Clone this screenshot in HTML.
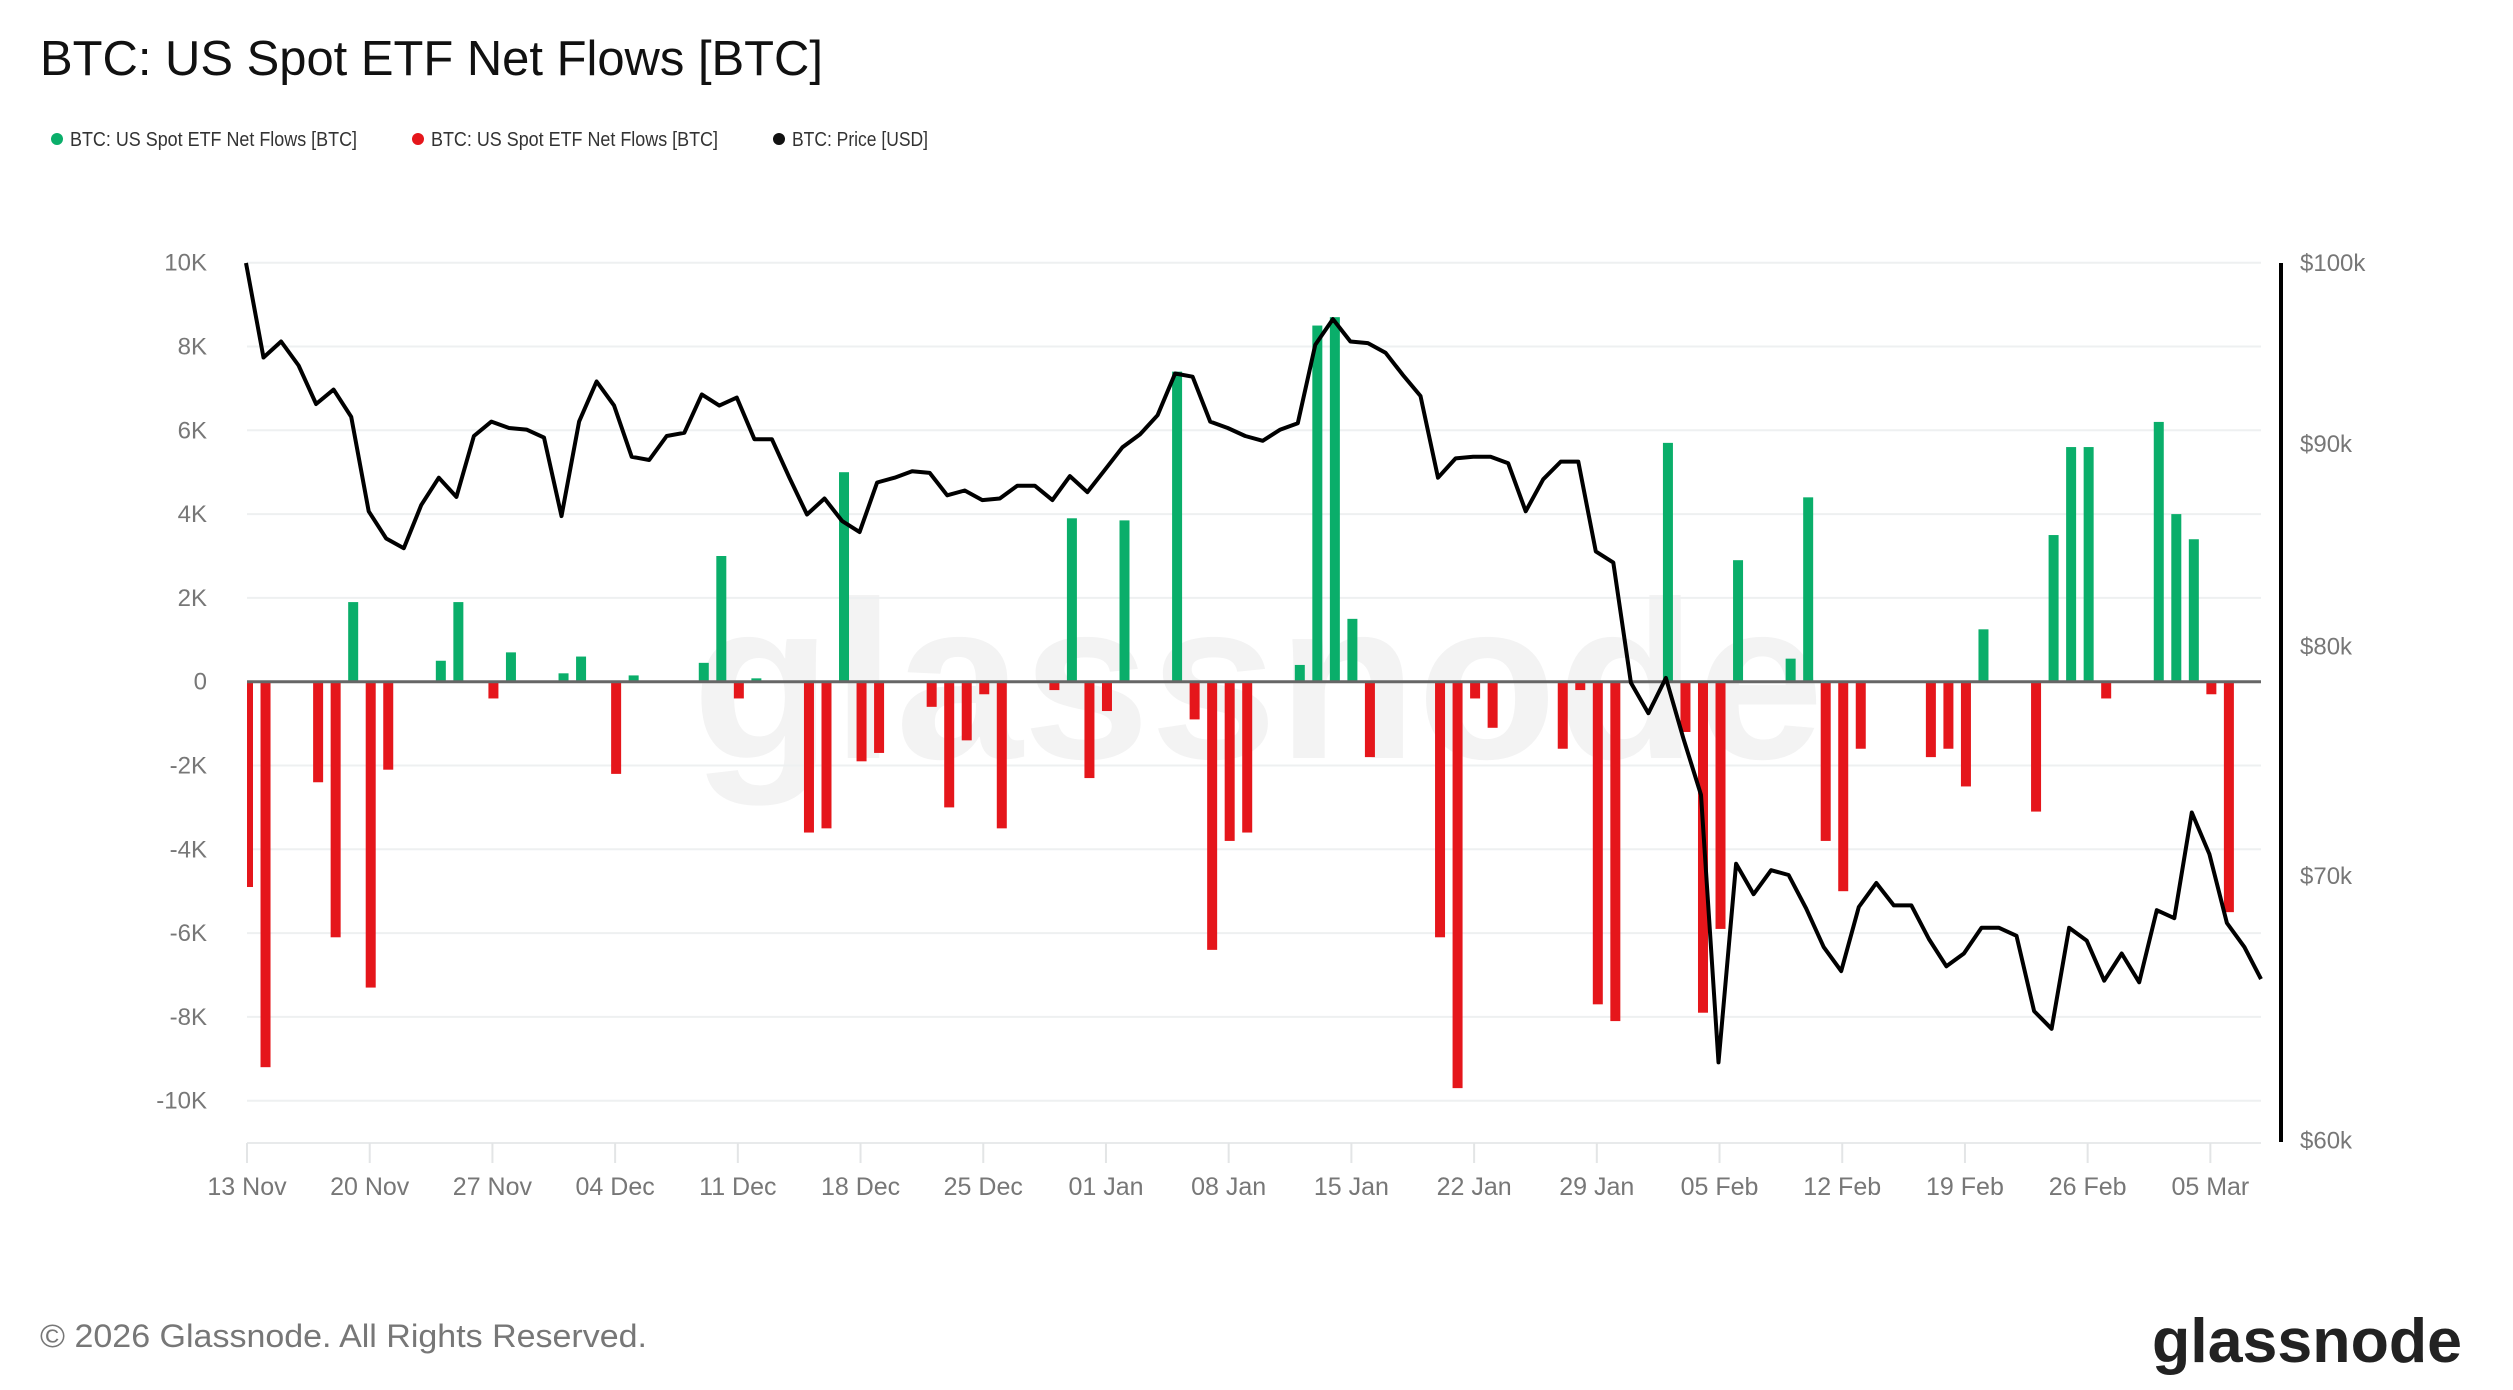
<!DOCTYPE html>
<html><head><meta charset="utf-8"><style>
html,body{margin:0;padding:0;background:#fff;}
svg{display:block;font-family:"Liberation Sans",sans-serif;}
</style></head><body>
<svg id="c" width="2513" height="1390" viewBox="0 0 2513 1390" xmlns="http://www.w3.org/2000/svg">
<rect width="2513" height="1390" fill="#fff"/>
<text x="40" y="75" font-size="49" fill="#111" textLength="783" lengthAdjust="spacingAndGlyphs">BTC: US Spot ETF Net Flows [BTC]</text>
<circle cx="57" cy="139" r="6" fill="#0aae6a"/>
<text x="70" y="146" font-size="20" fill="#333" textLength="287" lengthAdjust="spacingAndGlyphs">BTC: US Spot ETF Net Flows [BTC]</text>
<circle cx="418" cy="139" r="6" fill="#e5161b"/>
<text x="431" y="146" font-size="20" fill="#333" textLength="287" lengthAdjust="spacingAndGlyphs">BTC: US Spot ETF Net Flows [BTC]</text>
<circle cx="779" cy="139" r="6" fill="#111"/>
<text x="792" y="146" font-size="20" fill="#333" textLength="136" lengthAdjust="spacingAndGlyphs">BTC: Price [USD]</text>
<text x="692" y="758" font-size="225" font-weight="bold" fill="#f3f3f3" textLength="1132" lengthAdjust="spacingAndGlyphs">glassnode</text>
<g id="grid"></g>
<g id="bars"></g>
<g id="line"></g>
<text x="40" y="1347" font-size="32" fill="#777" textLength="607" lengthAdjust="spacingAndGlyphs">© 2026 Glassnode. All Rights Reserved.</text>
<text x="2152" y="1362" font-size="62" font-weight="bold" fill="#222" textLength="310" lengthAdjust="spacingAndGlyphs">glassnode</text>
</svg>
<script>
var NS="http://www.w3.org/2000/svg";
function el(p,t,a,txt){var e=document.createElementNS(NS,t);for(var k in a)e.setAttribute(k,a[k]);if(txt!==undefined)e.textContent=txt;p.appendChild(e);return e;}
var g=document.getElementById('grid'),b=document.getElementById('bars'),l=document.getElementById('line');
var L=247,R=2261,Y0=681.7,S=83.8/2000,X0=246,DX=17.53;
function yv(v){return Y0-v*S;}
var labs=["10K","8K","6K","4K","2K","0","-2K","-4K","-6K","-8K","-10K"];
for(var i=0;i<=10;i++){var y=262.7+i*83.8;
 if(i!=5)el(g,'line',{x1:L,x2:R,y1:y,y2:y,stroke:'#eef0f1','stroke-width':2});
 el(g,'text',{x:207,y:y+8,'font-size':24,fill:'#777','text-anchor':'end'},labs[i]);}
el(g,'line',{x1:L,x2:R,y1:1143,y2:1143,stroke:'#e8eaeb','stroke-width':2});
var dl=["13 Nov","20 Nov","27 Nov","04 Dec","11 Dec","18 Dec","25 Dec","01 Jan","08 Jan","15 Jan","22 Jan","29 Jan","05 Feb","12 Feb","19 Feb","26 Feb","05 Mar"];
for(var i=0;i<dl.length;i++){var x=X0+1+i*7*DX;
 el(g,'line',{x1:x,x2:x,y1:1143,y2:1163,stroke:'#e3e5e6','stroke-width':2});
 el(g,'text',{x:x,y:1195,'font-size':25,fill:'#777','text-anchor':'middle'},dl[i]);}
el(g,'line',{x1:2281,x2:2281,y1:263,y2:1142,stroke:'#000','stroke-width':4});
var pl=[[100,"$100k"],[90,"$90k"],[80,"$80k"],[70,"$70k"],[60,"$60k"]];
function yp(p){return 263+(Math.log(100)-Math.log(p))*1718;}
pl.forEach(function(q){el(g,'text',{x:2300,y:yp(q[0])+8,'font-size':24,fill:'#777'},q[1]);});
var bars=[[0,-4.9],[1,-9.2],[4,-2.4],[5,-6.1],[6,1.9],[7,-7.3],[8,-2.1],[11,0.5],[12,1.9],[14,-0.4],[15,0.7],[18,0.2],[19,0.6],[21,-2.2],[22,0.15],[26,0.45],[27,3.0],[28,-0.4],[29,0.08],[32,-3.6],[33,-3.5],[34,5.0],[35,-1.9],[36,-1.7],[39,-0.6],[40,-3.0],[41,-1.4],[42,-0.3],[43,-3.5],[46,-0.2],[47,3.9],[48,-2.3],[49,-0.7],[50,3.85],[53,7.4],[54,-0.9],[55,-6.4],[56,-3.8],[57,-3.6],[60,0.4],[61,8.5],[62,8.7],[63,1.5],[64,-1.8],[68,-6.1],[69,-9.7],[70,-0.4],[71,-1.1],[75,-1.6],[76,-0.2],[77,-7.7],[78,-8.1],[81,5.7],[82,-1.2],[83,-7.9],[84,-5.9],[85,2.9],[88,0.55],[89,4.4],[90,-3.8],[91,-5.0],[92,-1.6],[96,-1.8],[97,-1.6],[98,-2.5],[99,1.25],[102,-3.1],[103,3.5],[104,5.6],[105,5.6],[106,-0.4],[109,6.2],[110,4.0],[111,3.4],[112,-0.3],[113,-5.5]];
bars.forEach(function(q){var cx=X0+q[0]*DX+2,v=q[1]*1000,y=yv(v);var x1=Math.max(L,cx-5),x2=cx+5;
 el(b,'rect',{x:x1,y:Math.min(y,Y0),width:x2-x1,height:Math.abs(Y0-y),fill:v>0?'#0aae6a':'#e5161b'});});
el(b,'line',{x1:L,x2:R,y1:Y0,y2:Y0,stroke:'#666','stroke-width':3});
var py=[163,222,212,227,251,242,259,318,335,341,314,297,309,271,262,266,267,272,321,262,237,252,284,286,271,269,245,252,247,273,273,297,320,310,324,331,300,297,293,294,308,305,311,310,302,302,311,296,306,292,278,270,258,232,234,262,266,271,274,267,263,214,198,212,213,219,233,246,297,285,284,284,288,318,298,287,287,343,350,425,444,422,460,495,662,538,557,542,545,566,590,605,565,550,564,564,585,602,594,578,578,583,630,641,578,586,611,594,612,567,572,506,532,575,590,610];
var pts=py.map(function(d,i){var x=X0+i*DX;if(x>R)x=R;return x.toFixed(1)+','+(263+(d-163)*1.602).toFixed(1);});
el(l,'polyline',{points:pts.join(' '),fill:'none',stroke:'#000','stroke-width':4,'stroke-linejoin':'round'});
</script>
</body></html>
